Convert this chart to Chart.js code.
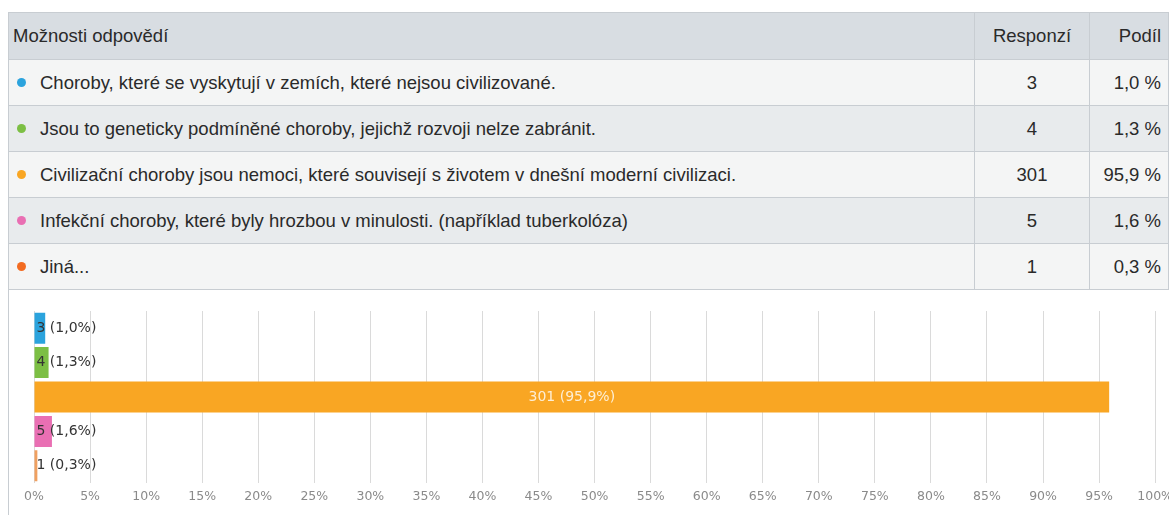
<!DOCTYPE html>
<html>
<head>
<meta charset="utf-8">
<script src="https://cdn.jsdelivr.net/npm/chart.js@4/dist/chart.umd.min.js"></script>
<style>
  html, body { margin: 0; padding: 0; background: #fff; width: 1169px; height: 515px; overflow: hidden; }
  #wrap { position: absolute; left: 8px; top: 12px; width: 1161px; }
  table { border-collapse: collapse; width: 1161px; font-family: "Liberation Sans", sans-serif; font-size: 18.5px; color: #2a2a2a; }
  th, td { border: 1px solid #c8cdd2; height: 45px; padding: 0 10px 0 4px; font-weight: normal; white-space: nowrap; }
  th { background: #d8dde2; text-align: left; height: 46px; }
  tr:nth-child(even) td { background: #f4f5f5; }
  tr:nth-child(odd) td { background: #e8ebed; }
  td.cnt, th.cnt { text-align: center; width: 102px; padding: 0 6px; }
  td.pct, th.pct { text-align: right; width: 67px; padding: 0 7px 0 4px; }
  .dot { display: inline-block; width: 9px; height: 9px; border-radius: 50%; margin: 0 14px 0 4px; vertical-align: 2px; }
  #chartBox { position: absolute; left: 8px; top: 288px; width: 1170px; height: 227px; border-left: 1px solid #c8cdd2; }
</style>
</head>
<body>
<div id="wrap">
  <table id="tbl"></table>
</div>
<div id="chartBox"><canvas id="barChart"></canvas></div>
<script>
// --- Data ---
const answers = [
  'Choroby, které se vyskytují v zemích, které nejsou civilizované.',
  'Jsou to geneticky podmíněné choroby, jejichž rozvoji nelze zabránit.',
  'Civilizační choroby jsou nemoci, které souvisejí s životem v dnešní moderní civilizaci.',
  'Infekční choroby, které byly hrozbou v minulosti. (například tuberkolóza)',
  'Jiná...'
];
const counts = [3, 4, 301, 5, 1];
const shares = [1.0, 1.3, 95.9, 1.6, 0.3];
const dotColors = ['#2ba3dd', '#7cbf44', '#f9a623', '#e96fb3', '#f26b21'];
const barColors = ['#2ba3dd', '#7cbf44', '#f9a623', '#e96fb3', '#f0a060'];
const headers = ['Možnosti odpovědí', 'Responzí', 'Podíl'];
const tickLabels = [0, 5, 10, 15, 20, 25, 30, 35, 40, 45, 50, 55, 60, 65, 70, 75, 80, 85, 90, 95, 100];

const fmt = v => v.toFixed(1).replace('.', ',');

// --- Table ---
function renderTable() {
  const tbl = document.getElementById('tbl');
  let html = `<tr><th>${headers[0]}</th><th class="cnt">${headers[1]}</th><th class="pct">${headers[2]}</th></tr>`;
  answers.forEach((a, i) => {
    html += `<tr>
      <td><span class="dot" style="background:${dotColors[i]}"></span>${a}</td>
      <td class="cnt">${counts[i]}</td>
      <td class="pct">${fmt(shares[i])} %</td>
    </tr>`;
  });
  tbl.innerHTML = html;
}
renderTable();

// --- Bar labels plugin ---
const barLabels = {
  id: 'barLabels',
  afterDatasetsDraw(chart) {
    const ctx = chart.ctx;
    const meta = chart.getDatasetMeta(0);
    ctx.save();
    ctx.font = '14px "DejaVu Sans", sans-serif';
    ctx.textBaseline = 'middle';
    meta.data.forEach((bar, i) => {
      const txt = `${counts[i]} (${fmt(shares[i])}%)`;
      if (shares[i] > 20) {
        ctx.fillStyle = '#fdeed4';
        ctx.textAlign = 'center';
        ctx.fillText(txt, (bar.base + bar.x) / 2, bar.y);
      } else {
        ctx.fillStyle = '#333';
        ctx.textAlign = 'left';
        ctx.fillText(txt, bar.base + 2, bar.y);
      }
    });
    ctx.restore();
  }
};

new Chart(document.getElementById('barChart'), {
  type: 'bar',
  data: {
    labels: answers,
    datasets: [{
      data: shares,
      backgroundColor: barColors,
      barPercentage: 0.9,
      categoryPercentage: 1.0
    }]
  },
  options: {
    indexAxis: 'y',
    responsive: true, maintainAspectRatio: false,
    animation: false,
    layout: { padding: { left: 25, right: 0, top: 23, bottom: 5 } },
    plugins: { legend: { display: false }, tooltip: { enabled: false } },
    scales: {
      x: {
        min: 0, max: 100,
        afterBuildTicks: axis => { axis.ticks = tickLabels.map(v => ({ value: v })); },
        ticks: { callback: v => v + '%', color: '#8a8a8a', font: { family: 'DejaVu Sans', size: 12.5 }, padding: 6, maxRotation: 0, autoSkip: false },
        grid: { color: '#dadada', drawTicks: false },
        border: { display: false }
      },
      y: { display: false }
    }
  },
  plugins: [barLabels]
});
</script>
</body>
</html>
